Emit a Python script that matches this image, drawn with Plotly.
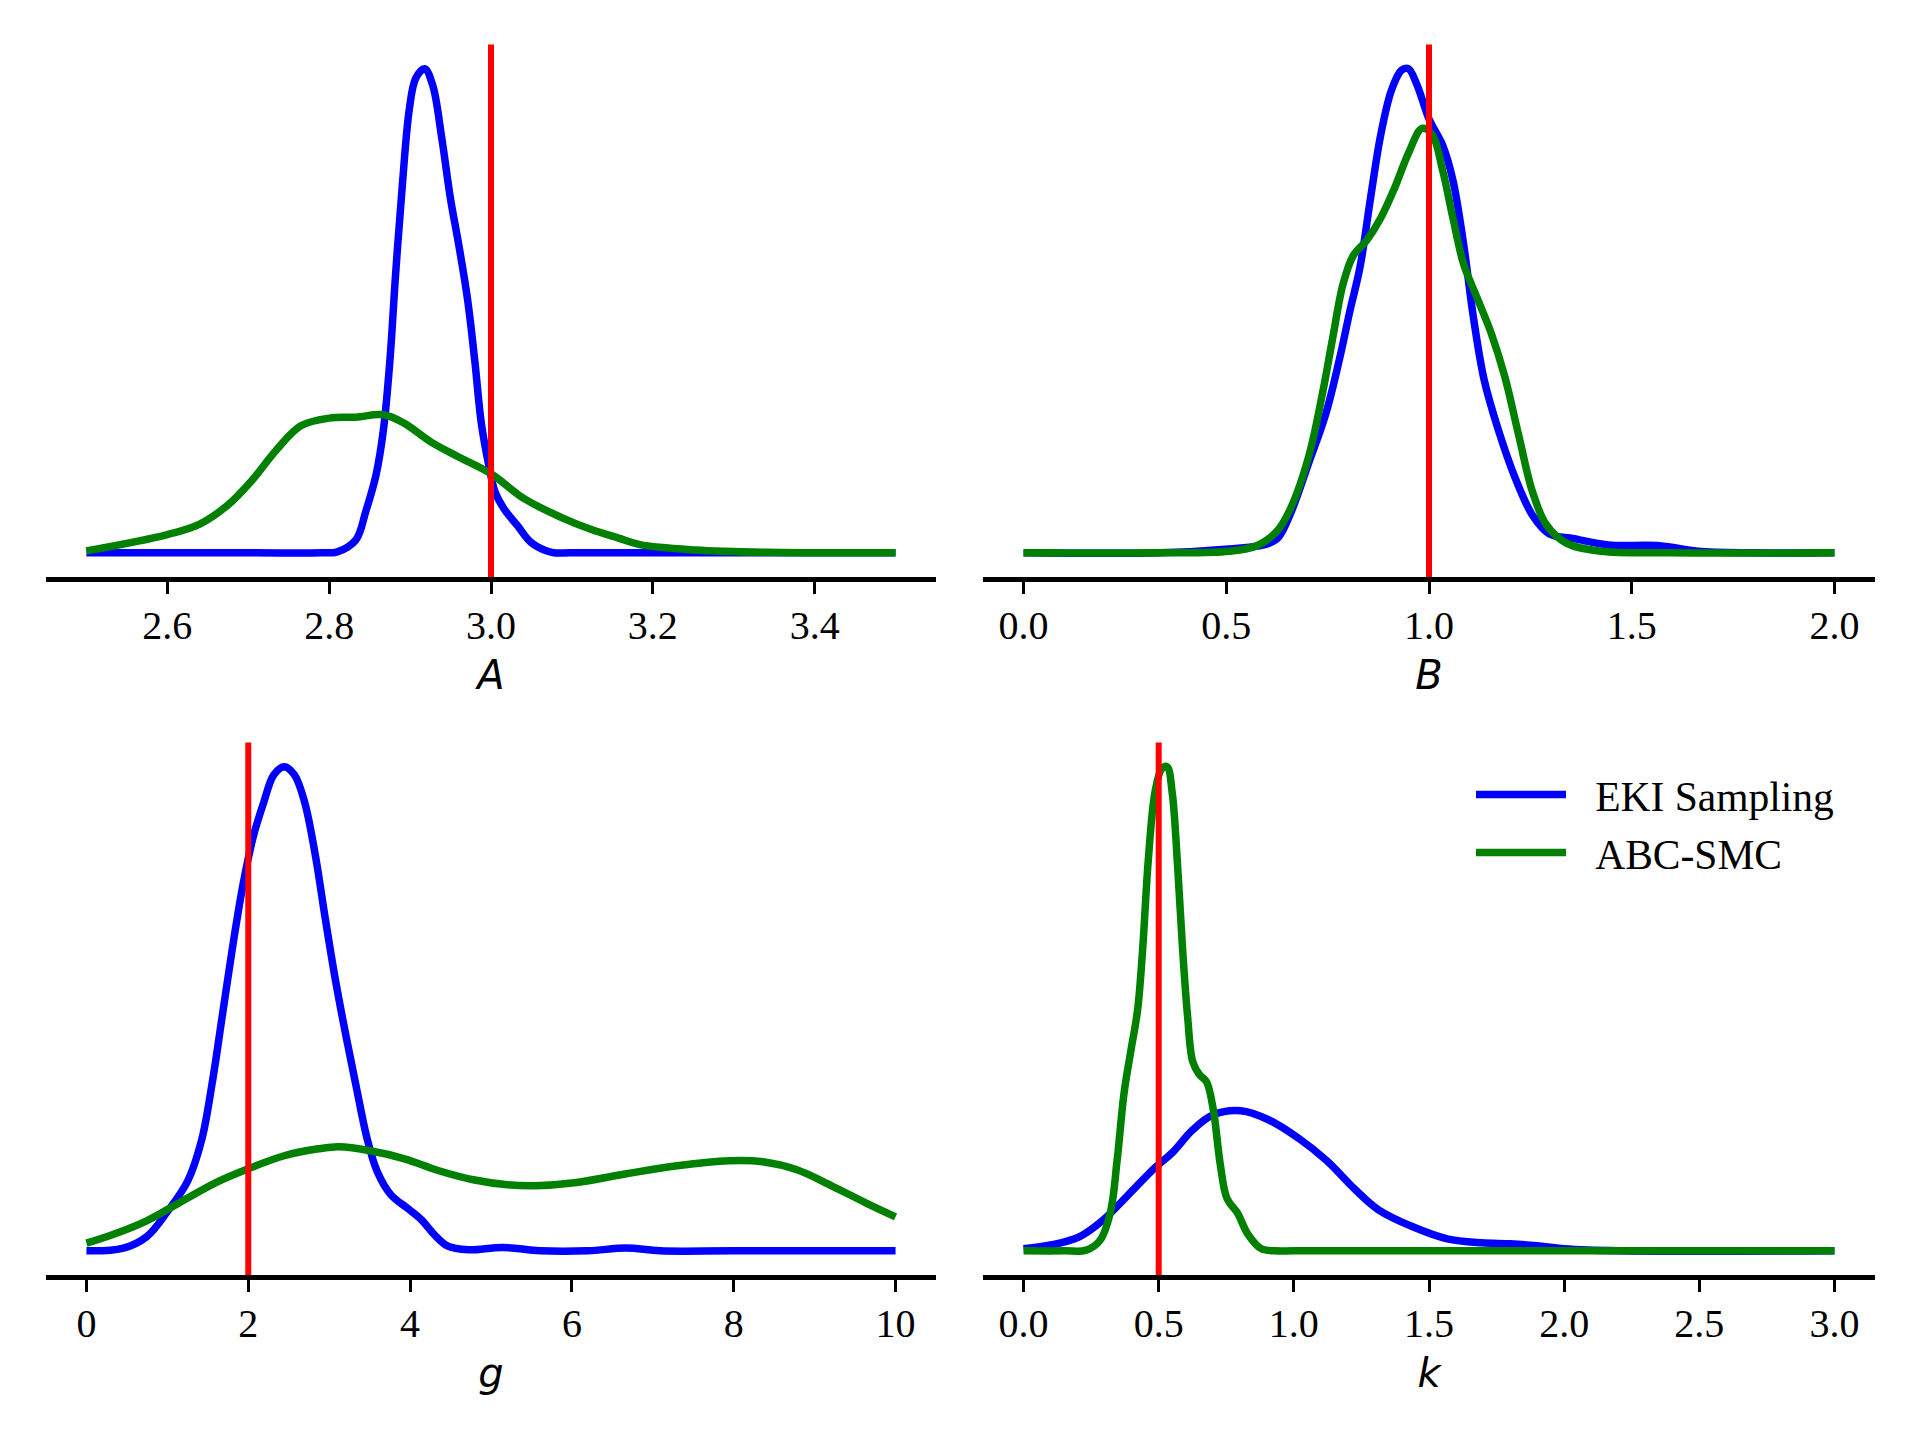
import plotly.graph_objects as go

# kernel density estimates (EKI sampling vs ABC-SMC)
a_eki_x = [2.50, 2.70, 2.79, 2.81, 2.833, 2.845, 2.858, 2.867, 2.875, 2.882, 2.890, 2.899, 2.907, 2.918,
           2.928, 2.939, 2.950, 2.960, 2.971, 2.980, 2.988, 2.997, 3.005, 3.016, 3.033, 3.050, 3.075, 3.10, 3.50]
a_eki_y = [0, 0, 0, 0.02, 0.27, 0.85, 1.63, 2.56, 4.0, 5.79, 7.58, 9.25, 9.9, 10.1,
           9.75, 8.67, 7.38, 6.44, 5.29, 4.0, 2.71, 1.85, 1.27, 0.92, 0.56, 0.21, 0.01, 0, 0]
a_abc_x = [2.50, 2.60, 2.64, 2.675, 2.705, 2.735, 2.765, 2.80, 2.833, 2.867, 2.892, 2.926, 2.96, 3.0,
           3.041, 3.088, 3.125, 3.157, 3.184, 3.252, 3.34, 3.50]
a_abc_y = [0.04, 0.38, 0.6, 1.0, 1.52, 2.15, 2.65, 2.81, 2.83, 2.88, 2.71, 2.31, 2.0, 1.65,
           1.13, 0.73, 0.48, 0.31, 0.17, 0.06, 0.01, 0]

b_eki_x = [0.0, 0.337, 0.507, 0.592, 0.626, 0.660, 0.703, 0.745, 0.779, 0.805, 0.830, 0.856, 0.881, 0.907,
           0.932, 0.949, 0.970, 1.0, 1.034, 1.059, 1.085, 1.110, 1.136, 1.170, 1.212, 1.255, 1.297, 1.357,
           1.442, 1.569, 1.663, 1.80, 2.0]
b_eki_y = [0, 0, 0.025, 0.05, 0.09, 0.26, 0.57, 0.88, 1.23, 1.54, 1.82, 2.26, 2.66, 2.94,
           3.07, 3.08, 2.98, 2.76, 2.59, 2.37, 1.97, 1.49, 1.10, 0.79, 0.48, 0.24, 0.12, 0.09,
           0.05, 0.045, 0.01, 0, 0]
b_abc_x = [0.0, 0.337, 0.507, 0.575, 0.626, 0.660, 0.703, 0.737, 0.762, 0.788, 0.813, 0.847, 0.881, 0.915,
           0.949, 0.983, 1.008, 1.034, 1.059, 1.085, 1.119, 1.153, 1.187, 1.221, 1.255, 1.289, 1.340,
           1.425, 1.60, 2.0]
b_abc_y = [0, 0, 0.01, 0.045, 0.14, 0.29, 0.61, 1.01, 1.36, 1.71, 1.89, 1.99, 2.13, 2.32,
           2.54, 2.70, 2.66, 2.43, 2.13, 1.84, 1.62, 1.40, 1.12, 0.75, 0.39, 0.18, 0.06,
           0.01, 0, 0]

g_eki_x = [0, 0.446, 0.744, 1.0, 1.254, 1.424, 1.551, 1.679, 1.806, 1.934, 2.061, 2.189, 2.316, 2.444,
           2.571, 2.699, 2.826, 2.954, 3.081, 3.209, 3.336, 3.464, 3.591, 3.761, 3.974, 4.14, 4.29,
           4.46, 4.72, 5.14, 5.61, 6.2, 6.67, 7.09, 8.0, 10.0]
g_eki_y = [0, 0.0032, 0.019, 0.053, 0.095, 0.150, 0.225, 0.318, 0.411, 0.495, 0.560, 0.606, 0.644, 0.655,
           0.644, 0.606, 0.537, 0.448, 0.364, 0.290, 0.221, 0.154, 0.108, 0.076, 0.057, 0.042, 0.023,
           0.0068, 0.0014, 0.0046, 0, 0, 0.0038, 0, 0, 0]
g_abc_x = [0, 0.319, 0.744, 1.169, 1.594, 2.0, 2.444, 2.869, 3.124, 3.506, 3.931, 4.356, 4.781, 5.206,
           5.546, 6.03, 6.67, 7.30, 7.94, 8.36, 8.78, 9.21, 9.63, 10.0]
g_abc_y = [0.0103, 0.0217, 0.0406, 0.0663, 0.092, 0.111, 0.1286, 0.138, 0.1407, 0.1353, 0.1245, 0.1083,
           0.0961, 0.0893, 0.088, 0.092, 0.1042, 0.115, 0.1218, 0.1204, 0.1096, 0.088, 0.065, 0.046]

k_eki_x = [0, 0.104, 0.206, 0.295, 0.384, 0.486, 0.550, 0.626, 0.702, 0.804, 0.906, 1.020, 1.122, 1.224,
           1.313, 1.440, 1.567, 1.695, 1.80, 1.898, 2.0, 2.2, 3.0]
k_eki_y = [0.02, 0.06, 0.14, 0.31, 0.55, 0.83, 0.98, 1.21, 1.36, 1.40, 1.31, 1.12, 0.90, 0.62,
           0.41, 0.24, 0.12, 0.08, 0.07, 0.05, 0.02, 0, 0]
k_abc_x = [0, 0.15, 0.232, 0.282, 0.321, 0.346, 0.372, 0.397, 0.422, 0.441, 0.461, 0.486, 0.511, 0.531,
           0.550, 0.569, 0.588, 0.607, 0.626, 0.651, 0.677, 0.702, 0.728, 0.753, 0.791, 0.829, 0.880,
           0.931, 1.0, 3.0]
k_abc_y = [0, 0, 0.007, 0.10, 0.38, 0.90, 1.58, 2.00, 2.41, 3.03, 3.89, 4.58, 4.82, 4.84,
           4.58, 3.89, 3.03, 2.34, 1.89, 1.76, 1.69, 1.41, 0.86, 0.52, 0.38, 0.17, 0.02,
           0, 0, 0]

params = ["A", "B", "g", "k"]
true_values = [3.0, 1.0, 2.0, 0.5]
x_limits = [(2.5, 3.5), (0.0, 2.0), (0.0, 10.0), (0.0, 3.0)]
tick_values = [[2.6, 2.8, 3.0, 3.2, 3.4],
               [0.0, 0.5, 1.0, 1.5, 2.0],
               [0, 2, 4, 6, 8, 10],
               [0.0, 0.5, 1.0, 1.5, 2.0, 2.5, 3.0]]
tick_format = [".1f", ".1f", "d", ".1f"]

eki = [(a_eki_x, a_eki_y), (b_eki_x, b_eki_y), (g_eki_x, g_eki_y), (k_eki_x, k_eki_y)]
abc = [(a_abc_x, a_abc_y), (b_abc_x, b_abc_y), (g_abc_x, g_abc_y), (k_abc_x, k_abc_y)]

W, H = 1920, 1440
# panel boxes in px (page has an 8px body margin)
x_domains = [(38 / W, 928 / W), (975 / W, 1867 / W)]
y_domains = [(1 - 569 / H, 1 - 36.5 / H), (1 - 1267 / H, 1 - 734.5 / H)]

serif = "Liberation Serif"
gap = "\u00a0\u00a0\u200a"
fig = go.Figure()
layout = {}

for i, name in enumerate(params):
    n = "" if i == 0 else str(i + 1)
    xa, ya = "x" + n, "y" + n
    (ex, ey), (ax_, ay) = eki[i], abc[i]
    fig.add_trace(go.Scatter(x=ex, y=ey, mode="lines", name=gap + "EKI Sampling",
                             legendgroup="eki",
                             line=dict(color="blue", width=7.5, shape="spline", smoothing=1.0),
                             xaxis=xa, yaxis=ya, showlegend=(i == 3)))
    fig.add_trace(go.Scatter(x=ax_, y=ay, mode="lines", name=gap + "ABC-SMC",
                             legendgroup="abc",
                             line=dict(color="green", width=7.5, shape="spline", smoothing=1.0),
                             xaxis=xa, yaxis=ya, showlegend=(i == 3)))

    lo, hi = x_limits[i]
    pad = 0.05 * (hi - lo)
    ymax = max(max(ey), max(ay))
    layout["xaxis" + n] = dict(
        domain=x_domains[i % 2], anchor=ya, range=[lo - pad, hi + pad],
        tickvals=tick_values[i], tickformat=tick_format[i],
        showline=True, linecolor="black", linewidth=4.8,
        ticks="outside", ticklen=12, tickwidth=2.8, tickcolor="black",
        ticklabelstandoff=-3,
        showgrid=False, zeroline=False, automargin=False,
        tickfont=dict(family=serif, size=40, color="black"),
        title=dict(text="<i>%s</i>" % name, standoff=16,
                   font=dict(family="DejaVu Sans", size=40, color="black")),
    )
    layout["yaxis" + n] = dict(
        domain=y_domains[i // 2], anchor=xa, range=[-0.05 * ymax, 1.05 * ymax],
        visible=False, automargin=False,
    )
    fig.add_shape(type="line", xref=xa, yref=ya + " domain",
                  x0=true_values[i], x1=true_values[i], y0=0, y1=1,
                  line=dict(color="red", width=6), layer="above")

fig.update_layout(**layout)
fig.update_layout(
    width=W, height=H,
    margin=dict(l=0, r=0, t=0, b=0),
    paper_bgcolor="white", plot_bgcolor="white",
    legend=dict(x=1463 / W, y=1 - 753 / H, xanchor="left", yanchor="top",
                font=dict(family=serif, size=41.5, color="black"),
                itemwidth=90, bgcolor="rgba(0,0,0,0)", tracegroupgap=1),
)

fig.write_html("out.html")
